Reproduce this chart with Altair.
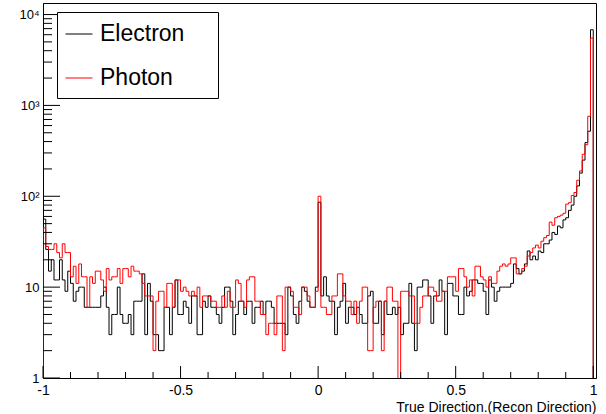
import altair as alt
import numpy as np
import pandas as pd

# ---------------- data ----------------
bin_low, bin_high, n_bins = -1.0, 1.0, 200

electron_counts = [
    56, 26, 15, 20, 12, 12, 20, 12, 9, 15,
    11, 7, 9, 10, 10, 6, 6, 6, 6, 6,
    6, 8, 10, 6, 3, 5, 5, 10, 5, 4,
    4, 5, 3, 7, 7, 7, 14, 3, 11, 7,
    3, 3, 2, 2, 6, 6, 3, 6, 12, 5,
    5, 7, 6, 4, 8, 8, 3, 3, 7, 6,
    8, 6, 6, 5, 4, 6, 10, 10, 7, 3,
    5, 7, 7, 5, 7, 7, 4, 6, 6, 7,
    5, 7, 7, 6, 4, 4, 4, 4, 3, 10,
    8, 5, 4, 7, 10, 9, 7, 6, 6, 10,
    86, 8, 13, 8, 7, 7, 3, 6, 7, 11,
    4, 6, 6, 5, 6, 5, 4, 4, 8, 9,
    4, 4, 7, 3, 7, 5, 5, 6, 5, 6,
    3, 4, 4, 11, 4, 2, 10, 10, 12, 12,
    8, 4, 8, 8, 12, 9, 3, 11, 11, 8,
    8, 5, 5, 10, 8, 9, 12, 12, 11, 11,
    9, 5, 12, 10, 7, 9, 10, 10, 10, 10,
    11, 18, 16, 14, 15, 18, 25, 20, 22, 20,
    25, 24, 30, 30, 33, 40, 38, 47, 45, 55,
    58, 70, 80, 100, 130, 180, 250, 390, 520, 6800,
]

photon_counts = [
    45, 28, 26, 26, 30, 24, 21, 30, 24, 24,
    13, 17, 11, 18, 13, 13, 6, 13, 11, 15,
    15, 12, 9, 16, 12, 13, 13, 16, 11, 16,
    16, 13, 17, 15, 15, 14, 11, 8, 8, 8,
    2, 7, 9, 9, 6, 11, 11, 6, 12, 12,
    9, 10, 9, 8, 9, 8, 10, 6, 8, 8,
    8, 7, 7, 6, 6, 8, 6, 9, 6, 6,
    12, 11, 7, 6, 12, 13, 13, 7, 7, 5,
    5, 3, 4, 4, 3, 8, 8, 2, 10, 10,
    9, 6, 6, 5, 10, 10, 8, 6, 6, 9,
    100, 6, 6, 5, 5, 8, 8, 14, 14, 8,
    7, 7, 5, 7, 4, 7, 10, 10, 2, 2,
    6, 7, 7, 2, 7, 10, 10, 7, 7, 0,
    9, 9, 9, 8, 8, 4, 4, 6, 8, 8,
    10, 10, 9, 7, 7, 9, 9, 13, 13, 13,
    9, 16, 16, 13, 10, 12, 8, 17, 17, 13,
    12, 10, 13, 11, 11, 15, 17, 18, 17, 18,
    21, 21, 14, 14, 16, 17, 22, 24, 27, 29,
    27, 32, 35, 37, 52, 48, 58, 60, 62, 65,
    82, 85, 102, 110, 150, 190, 290, 370, 760, 5500,
]

series_names = ["Electron", "Photon"]
series_colors = ["#000000", "#ff0000"]

x_major_ticks = [-1, -0.5, 0, 0.5, 1]
x_minor_ticks = [-0.9, -0.8, -0.7, -0.6, -0.4, -0.3, -0.2, -0.1,
                 0.1, 0.2, 0.3, 0.4, 0.6, 0.7, 0.8, 0.9]
y_major_ticks = [1, 10, 100, 1000, 10000]
y_minor_mult = [2, 3, 4, 5, 6, 7, 8, 9]
x_domain = [-1.0, 1.01]
y_domain = [1, 13400]
x_title = "True Direction.(Recon Direction)"

# ---------------- build step-histogram table ----------------
edges = np.linspace(bin_low, bin_high, n_bins + 1)
floor = 0.5  # empty bins drop below the log-axis bottom (clipped)
rows = []
for name, counts in zip(series_names, [electron_counts, photon_counts]):
    pts = [(edges[0], floor)]
    pts += [(edges[i], c) for i, c in enumerate(counts)]
    pts += [(edges[-1], counts[-1]), (edges[-1], floor)]
    for k, (x, y) in enumerate(pts):
        rows.append({"series": name, "x": float(x), "y": max(float(y), floor), "k": k})
df = pd.DataFrame(rows)

y_minor_ticks = [m * d for d in y_major_ticks for m in y_minor_mult if m * d < y_domain[1]]

W, H = 553, 375
FONT = "Liberation Sans"

xs = alt.Scale(domain=x_domain, nice=False, zero=False)
ys = alt.Scale(type="log", domain=y_domain, nice=False)

x_axis = alt.Axis(
    values=x_major_ticks, ticks=False, grid=False,
    labelExpr="datum.value == 0 ? '0' : toString(datum.value)",
    labelFont=FONT, labelFontSize=14, labelColor="black", labelPadding=5,
    title=x_title, titleAnchor="end", titleFont=FONT, titleFontSize=14,
    titleFontWeight="normal", titleColor="black", titlePadding=3,
    domainColor="black", labelFlush=False)
y_axis = alt.Axis(
    values=y_major_ticks, ticks=False, grid=False,
    labelExpr="datum.value == 1 ? '1' : datum.value == 10 ? '10' : datum.value == 100 ? '10²' : datum.value == 1000 ? '10³' : '10⁴'",
    labelFont=FONT, labelFontSize=13, labelColor="black", labelPadding=4,
    title=None, domainColor="black")

lines = alt.Chart(df).mark_line(interpolate="step-after", strokeWidth=1, clip=True).encode(
    x=alt.X("x:Q", scale=xs, axis=x_axis),
    y=alt.Y("y:Q", scale=ys, axis=y_axis),
    color=alt.Color("series:N", scale=alt.Scale(domain=series_names, range=series_colors),
                    legend=alt.Legend(title=None,
                                      labelExpr="datum.label + '\u2004\u2800'")),
    order="k:Q",
)

xt_major = alt.Chart(pd.DataFrame({"v": x_major_ticks})).mark_rule(color="black", strokeWidth=1).encode(
    x=alt.X("v:Q", scale=xs, axis=x_axis), y=alt.value(H), y2=alt.value(H - 12))
xt_minor = alt.Chart(pd.DataFrame({"v": x_minor_ticks})).mark_rule(color="black", strokeWidth=1).encode(
    x=alt.X("v:Q", scale=xs, axis=x_axis), y=alt.value(H), y2=alt.value(H - 6))
yt_major = alt.Chart(pd.DataFrame({"v": y_major_ticks})).mark_rule(color="black", strokeWidth=1).encode(
    y=alt.Y("v:Q", scale=ys, axis=y_axis), x=alt.value(0), x2=alt.value(17))
yt_minor = alt.Chart(pd.DataFrame({"v": y_minor_ticks})).mark_rule(color="black", strokeWidth=1).encode(
    y=alt.Y("v:Q", scale=ys, axis=y_axis), x=alt.value(0), x2=alt.value(9))

chart = alt.layer(lines, xt_major, xt_minor, yt_major, yt_minor).properties(
    width=W, height=H,
    autosize=alt.AutoSizeParams(type="none"),
    padding={"left": 43, "top": 3, "right": 10, "bottom": 36},
    background="white",
).configure_view(
    stroke="black", strokeWidth=1
).configure_legend(
    orient="none", legendX=14, legendY=9,
    padding=8, strokeColor="black", fillColor="white", cornerRadius=0,
    symbolType="stroke", symbolSize=729, symbolStrokeWidth=1,
    labelFont=FONT, labelFontSize=23, labelColor="black", labelOffset=7,
    rowPadding=18,
)

chart.save("out.html", embed_options={"renderer": "svg", "actions": False})
